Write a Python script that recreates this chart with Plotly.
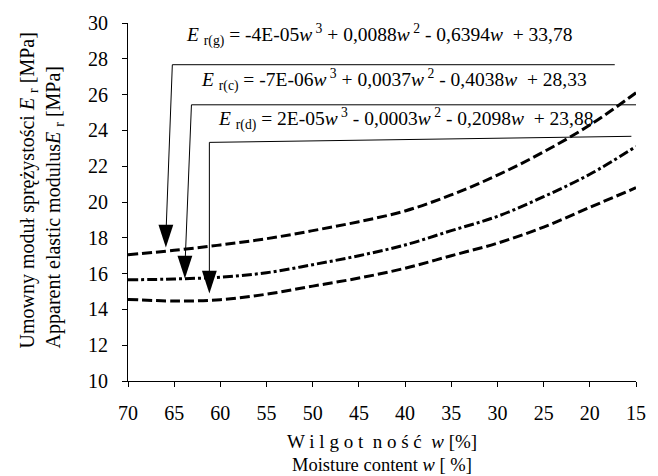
import plotly.graph_objects as go

# Moisture content w [%]
w = [70, 65, 60, 55, 50, 45, 40, 35, 30, 25, 20, 15]
# Apparent elastic modulus Er [MPa]
E_g = [17.05, 17.3, 17.6, 17.95, 18.4, 18.9, 19.5, 20.4, 21.5, 22.8, 24.3, 26.1]
E_c = [15.65, 15.7, 15.8, 16.05, 16.5, 17.0, 17.6, 18.4, 19.2, 20.3, 21.55, 23.1]
E_d = [14.56, 14.47, 14.54, 14.85, 15.3, 15.75, 16.3, 17.0, 17.7, 18.6, 19.7, 20.8]

x_ticks = [70, 65, 60, 55, 50, 45, 40, 35, 30, 25, 20, 15]
y_ticks = [10, 12, 14, 16, 18, 20, 22, 24, 26, 28, 30]

# callouts: arrow tip (w, E), corner of the callout (w, E), end of the underline (w, E)
tip_w = [65.9, 63.84, 61.19]
tip_E = [17.46, 15.72, 14.89]
corner_w = [65.2, 63.13, 61.19]
corner_E = [27.67, 25.43, 23.33]
end_w = [17.3, 15.0, 15.5]
end_E = [27.67, 25.43, 23.67]

eq_g = "<i>E</i> <sub>r(g)</sub> = -4E-05<i>w</i><sup> 3</sup> + 0,0088<i>w</i><sup> 2</sup> - 0,6394<i>w</i>  + 33,78"
eq_c = "<i>E</i> <sub>r(c)</sub> = -7E-06<i>w</i><sup> 3</sup> + 0,0037<i>w</i><sup> 2</sup> - 0,4038<i>w</i>  + 28,33"
eq_d = "<i>E</i> <sub>r(d)</sub> = 2E-05<i>w</i><sup> 3</sup> - 0,0003<i>w</i><sup> 2</sup> - 0,2098<i>w</i>  + 23,88"
eq_w = [63.95, 62.35, 60.44]
eq_E = [29.33, 26.83, 24.61]

FONT = "Liberation Serif"

fig = go.Figure()
fig.add_trace(go.Scatter(x=w, y=E_g, mode="lines", line=dict(color="black", width=3, dash="10px,4px", shape="spline")))
fig.add_trace(go.Scatter(x=w, y=E_c, mode="lines", line=dict(color="black", width=3, dash="10px,3px,3px,3px", shape="spline")))
fig.add_trace(go.Scatter(x=w, y=E_d, mode="lines", line=dict(color="black", width=3, dash="10px,4px", shape="spline")))

# callout lines
for i in range(3):
    fig.add_shape(type="line", xref="x", yref="y", x0=tip_w[i], y0=tip_E[i] + 0.6, x1=corner_w[i], y1=corner_E[i],
                  line=dict(color="black", width=1))
    fig.add_shape(type="line", xref="x", yref="y", x0=corner_w[i], y0=corner_E[i], x1=end_w[i], y1=end_E[i],
                  line=dict(color="black", width=1))

# arrowheads (tip of marker at the point)
fig.add_trace(go.Scatter(x=tip_w, y=tip_E, mode="markers",
                         marker=dict(symbol="arrow", angle=180, size=24, color="black",
                                     line=dict(width=0))))

for i, t in enumerate([eq_g, eq_c, eq_d]):
    fig.add_annotation(x=eq_w[i], y=eq_E[i], xref="x", yref="y", text=t, showarrow=False,
                       xanchor="left", yanchor="middle", font=dict(family=FONT, size=19.5, color="black"))

# y axis title (two lines)
fig.add_annotation(x=-0.225, y=0.086, xref="paper", yref="paper", xanchor="left", yanchor="bottom",
                   textangle=-90, align="left", showarrow=False,
                   text="Umowny moduł sprężystości <i>E</i> <sub>r</sub> [MPa]<br>Apparent elastic modulus<i>E</i> <sub>r</sub> [MPa]",
                   font=dict(family=FONT, size=20, color="black"))
# x axis title (two lines)
fig.add_annotation(x=0.5, y=-0.169, xref="paper", yref="paper", xanchor="center", yanchor="middle",
                   showarrow=False, text="W i l g o t  n o ś ć  <i>w</i> [%]",
                   font=dict(family=FONT, size=19, color="black"))
fig.add_annotation(x=0.5, y=-0.236, xref="paper", yref="paper", xanchor="center", yanchor="middle",
                   showarrow=False, text="Moisture content <i>w</i> [ %]",
                   font=dict(family=FONT, size=18.5, color="black"))

fig.update_layout(
    width=658, height=476,
    margin=dict(l=128, r=12, t=21, b=95),
    paper_bgcolor="white", plot_bgcolor="white",
    showlegend=False,
    font=dict(family=FONT, color="black"),
)
fig.update_xaxes(range=[70, 15], tickvals=x_ticks, showgrid=False, zeroline=False,
                 showline=True, linecolor="black", linewidth=1,
                 ticks="outside", ticklen=5, tickcolor="black",
                 tickfont=dict(family=FONT, size=20, color="black"), ticklabelstandoff=9)
fig.update_yaxes(range=[10, 30], tickvals=y_ticks, showgrid=False, zeroline=False,
                 showline=True, linecolor="black", linewidth=1,
                 ticks="outside", ticklen=5, tickcolor="black",
                 tickfont=dict(family=FONT, size=20, color="black"), ticklabelstandoff=10)

fig.write_html("out.html", config={"displayModeBar": False},
               post_script="document.body.style.margin='0';")
